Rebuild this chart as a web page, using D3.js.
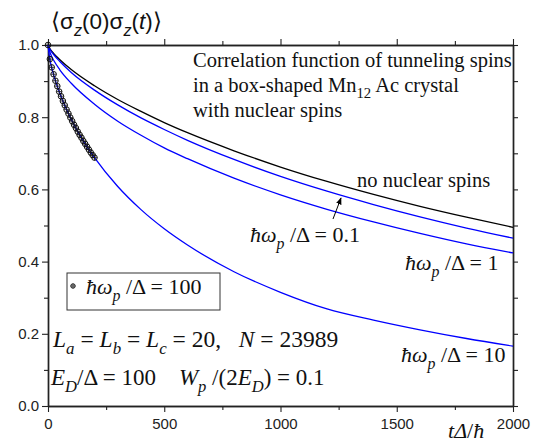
<!DOCTYPE html>
<html>
<head>
<meta charset="utf-8">
<script src="https://d3js.org/d3.v7.min.js"></script>
<style>
  body { margin: 0; background: #fff; }
</style>
</head>
<body>
<script>
const W = 545, H = 443
const margin = { left: 48, right: 32, top: 45, bottom: 37 }
const SANS = "'Liberation Sans', Arial, sans-serif"
const SERIF = "'Liberation Serif', 'Times New Roman', serif"

// time grids (t Δ/ħ)
const tMain = [0, 10, 25, 50, 100, 200, 300, 400, 500, 600, 800, 1000, 1200, 1400, 1600, 1800, 2000]
const noNuclear = [1.0, 0.988, 0.976, 0.960, 0.932, 0.887, 0.849, 0.816, 0.785, 0.757, 0.707, 0.662, 0.622, 0.586, 0.553, 0.523, 0.495]
const omega01 = [1.0, 0.986, 0.973, 0.955, 0.924, 0.875, 0.834, 0.798, 0.766, 0.736, 0.683, 0.636, 0.595, 0.558, 0.524, 0.493, 0.465]
const omega1 = [1.0, 0.977, 0.957, 0.932, 0.894, 0.836, 0.789, 0.750, 0.715, 0.685, 0.631, 0.585, 0.545, 0.510, 0.478, 0.449, 0.424]

const tFast = [0, 8, 25, 50, 75, 100, 150, 200, 300, 400, 500, 600, 800, 1000, 1200, 1400, 1600, 1800, 2000]
const omega10 = [1.0, 0.961, 0.916, 0.868, 0.828, 0.794, 0.736, 0.688, 0.608, 0.544, 0.491, 0.446, 0.372, 0.315, 0.269, 0.238, 0.211, 0.187, 0.166]

// ħω_p/Δ = 100 symbols
const tDots = [0, 8, 16, 24, 32, 40, 48, 56, 64, 72, 80, 88, 96, 104, 112, 120, 128, 136, 144, 152, 160, 168, 176, 184, 192, 200]
const omega100 = [1.0, 0.961, 0.938, 0.919, 0.901, 0.886, 0.871, 0.858, 0.845, 0.833, 0.821, 0.810, 0.799, 0.789, 0.779, 0.770, 0.760, 0.751, 0.743, 0.734, 0.726, 0.718, 0.710, 0.702, 0.695, 0.688]

const xMajor = [0, 500, 1000, 1500, 2000]
const xMinor = [250, 750, 1250, 1750]
const yMajor = [0, 0.2, 0.4, 0.6, 0.8, 1.0]
const yMinor = [0.1, 0.3, 0.5, 0.7, 0.9]

const svg = d3.select("body").append("svg").attr("width", W).attr("height", H)

const x = d3.scaleLinear().domain([0, 2000]).range([margin.left, W - margin.right])
const y = d3.scaleLinear().domain([0, 1]).range([H - margin.bottom, margin.top])

const axisColor = "#222"
function drawAxis(gen, transform, vals, size, labels) {
    const g = svg.append("g").attr("transform", transform)
        .call(gen.tickValues(vals).tickSize(size).tickSizeOuter(0)
            .tickFormat(labels ? labels : () => ""))
    g.select(".domain").attr("stroke", axisColor).attr("stroke-width", 1.4)
    g.selectAll(".tick line").attr("stroke", axisColor).attr("stroke-width", 1.1)
    g.selectAll(".tick text").attr("fill", axisColor)
        .style("font-family", SANS).style("font-size", "15px")
    return g
}
// bottom / left with labels
drawAxis(d3.axisBottom(x), `translate(0,${y(0)})`, xMajor, 6, d3.format("d"))
    .selectAll(".tick text").attr("dy", "0.9em")
drawAxis(d3.axisBottom(x), `translate(0,${y(0)})`, xMinor, 4)
drawAxis(d3.axisLeft(y), `translate(${x(0)},0)`, yMajor, 6, d3.format(".1f"))
drawAxis(d3.axisLeft(y), `translate(${x(0)},0)`, yMinor, 4)
// mirrored top / right
drawAxis(d3.axisTop(x), `translate(0,${y(1)})`, xMajor, 6)
drawAxis(d3.axisTop(x), `translate(0,${y(1)})`, xMinor, 4)
drawAxis(d3.axisRight(y), `translate(${x(2000)},0)`, yMajor, 5)
drawAxis(d3.axisRight(y), `translate(${x(2000)},0)`, yMinor, 5)

// curves
const line = d3.line().x(d => x(d[0])).y(d => y(d[1])).curve(d3.curveMonotoneX)
const series = [
    { t: tMain, v: noNuclear, color: "#000" },
    { t: tMain, v: omega01, color: "#0000ff" },
    { t: tMain, v: omega1, color: "#0000ff" },
    { t: tFast, v: omega10, color: "#0000ff" }
]
series.forEach(s => {
    svg.append("path")
        .datum(s.t.map((t, i) => [t, s.v[i]]))
        .attr("d", line)
        .attr("fill", "none")
        .attr("stroke", s.color)
        .attr("stroke-width", 1.3)
})

// symbol: circle with cross
function marker(g, cx, cy, r) {
    g.append("circle").attr("cx", cx).attr("cy", cy).attr("r", r)
        .attr("fill", "none").attr("stroke", "#111").attr("stroke-width", 1)
    g.append("line").attr("x1", cx - r).attr("x2", cx + r).attr("y1", cy).attr("y2", cy)
        .attr("stroke", "#111").attr("stroke-width", 0.8)
    g.append("line").attr("x1", cx).attr("x2", cx).attr("y1", cy - r).attr("y2", cy + r)
        .attr("stroke", "#111").attr("stroke-width", 0.8)
}
const dots = svg.append("g")
tDots.forEach((t, i) => marker(dots, x(t), y(omega100[i]), 2.8))

// rich text helper: segments [text, italic?, "sub"?]
function rich(px, py, size, segs, family) {
    const t = svg.append("text").attr("x", px).attr("y", py)
        .style("font-family", family || SERIF).style("font-size", size + "px")
        .style("white-space", "pre").attr("xml:space", "preserve")
        .attr("fill", "#111")
    let shift = 0
    segs.forEach(s => {
        const sp = t.append("tspan").text(s[0])
        if (s[1]) sp.style("font-style", "italic")
        const want = s[2] === "sub" ? size * 0.3 : 0
        if (want !== shift) { sp.attr("dy", want - shift); shift = want }
        if (s[2] === "sub") sp.style("font-size", (size * 0.72) + "px")
    })
    return t
}

// y title
rich(51, 29, 22.5, [["⟨σ"], ["z", true, "sub"], ["(0)σ"], ["z", true, "sub"], ["("], ["t", true], [")⟩"]], SANS)

// x title
rich(448, 438, 22, [["t", true], ["Δ", true], ["/"], ["ħ", true]])

// description
rich(193, 67, 20.5, [["Correlation function of tunneling spins"]])
rich(193, 92, 20.5, [["in a box-shaped Mn"], ["12", false, "sub"], [" Ac crystal"]])
rich(193, 117, 20.5, [["with nuclear spins"]])
rich(357, 187, 20.5, [["no nuclear spins"]])

// curve labels
const hw = (val) => [["ħω", true], ["p", true, "sub"], [" /Δ = " + val]]
rich(250, 242, 22, hw("0.1"))
rich(405, 270, 22, hw("1"))
rich(401, 362, 22, hw("10"))

// arrow to the 0.1 curve
svg.append("defs").append("marker").attr("id", "ah")
    .attr("viewBox", "0 0 10 10").attr("refX", 9).attr("refY", 5)
    .attr("markerWidth", 7).attr("markerHeight", 7).attr("orient", "auto")
    .append("path").attr("d", "M0,1 L10,5 L0,9 Z").attr("fill", "#000")
svg.append("line").attr("x1", 333).attr("y1", 219).attr("x2", 341).attr("y2", 198)
    .attr("stroke", "#000").attr("stroke-width", 1).attr("marker-end", "url(#ah)")

// legend box
svg.append("rect").attr("x", 67).attr("y", 273).attr("width", 153).attr("height", 37)
    .attr("fill", "#fff").attr("stroke", "#333").attr("stroke-width", 1)
marker(svg.append("g"), 73, 286, 2.2)
rich(86, 294, 22, hw("100"))

// parameters
rich(53, 347, 23.5, [["L", true], ["a", true, "sub"], [" = "], ["L", true], ["b", true, "sub"], [" = "],
    ["L", true], ["c", true, "sub"], [" = 20,   "], ["N", true], [" = 23989"]])
rich(51, 385, 23, [["E", true], ["D", true, "sub"], ["/Δ = 100    "], ["W", true], ["p", true, "sub"],
    [" /(2"], ["E", true], ["D", true, "sub"], [") = 0.1"]])
</script>
</body>
</html>
